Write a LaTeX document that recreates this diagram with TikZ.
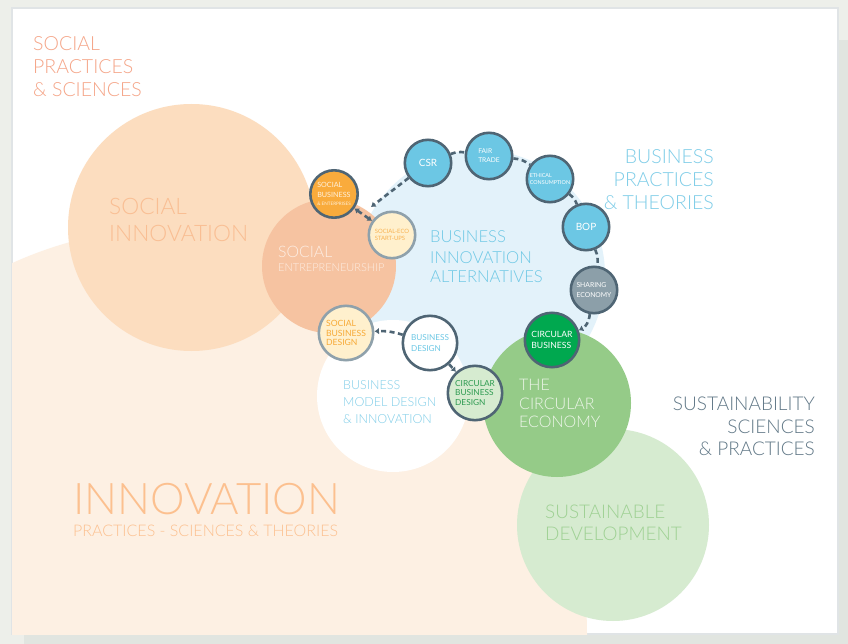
\documentclass[tikz,border=0pt]{standalone}
\usepackage{fontspec}
\IfFontExistsTF{Lato Light}{\setmainfont{Lato Light}}{\setmainfont{Lato}}
\newfontfamily\regfont{Lato}
\usetikzlibrary{arrows.meta}
\definecolor{bggray}{HTML}{EDEFEA}
\definecolor{shadowgray}{HTML}{E1E5E0}
\definecolor{cardline}{HTML}{E0E4E6}
\definecolor{bigpeach}{HTML}{FDF0E3}
\definecolor{sipeach}{HTML}{FCDDBF}
\definecolor{sepeach}{HTML}{F6C3A1}
\definecolor{bluebg}{HTML}{E3F2FA}
\definecolor{sdgreen}{HTML}{D6EBD0}
\definecolor{cegreen}{HTML}{95CB88}
\definecolor{slate}{HTML}{4F6574}
\definecolor{skyblue}{HTML}{6CC7E4}
\definecolor{orangefill}{HTML}{F9AB3C}
\definecolor{creamfill}{HTML}{FFF0CD}
\definecolor{lightring}{HTML}{8FA1AB}
\definecolor{sharegray}{HTML}{8C9FA9}
\definecolor{cbgreen}{HTML}{00A84F}
\definecolor{cbdtext}{HTML}{2E9B51}
\definecolor{salmontext}{HTML}{F5A588}
\definecolor{sitext}{HTML}{F9BE93}
\definecolor{setext}{HTML}{FDEEE4}
\definecolor{bluetext}{HTML}{6EC8E5}
\definecolor{bpttext}{HTML}{7FCDE8}
\definecolor{slatetext}{HTML}{617887}
\definecolor{sdtext}{HTML}{9FD194}
\definecolor{cetext}{HTML}{EEF6EA}
\definecolor{innotext}{HTML}{FCC08F}
\definecolor{orangetext}{HTML}{F7AA37}
\definecolor{ecotext}{HTML}{F8B250}
\definecolor{sbtext}{HTML}{FFF1DC}
\newcommand\fsz[2]{\fontsize{#1}{#2}\selectfont}
\tikzset{
  bigc/.style={circle, inner sep=0pt, draw=none},
  smallc/.style={circle, inner sep=0pt, draw=slate, line width=2.6pt, minimum size=46.4pt, align=left},
  dashline/.style={draw=slate, line width=2.6pt, dash pattern=on 5pt off 3.5pt},
  lbl/.style={inner sep=0pt, anchor=base west},
  lblr/.style={inner sep=0pt, anchor=base east},
}
\begin{document}
\begin{tikzpicture}[x=1pt, y=-1pt, >={Latex[length=4.5pt,width=6.5pt]}]
\useasboundingbox (0,0) rectangle (848,644);
% background and card
\fill[bggray] (0,0) rectangle (848,644);
\fill[shadowgray] (24,40) rectangle (848,644);
\filldraw[fill=white, draw=cardline, line width=1.2pt] (12,8) rectangle (838,634);
% large regions
\begin{scope}
  \clip (12,8) rectangle (838,634);
  \node[bigc, fill=bigpeach, minimum size=814pt] (inno) at (180,634) {};
\end{scope}
\node[bigc, fill=sipeach, minimum size=247pt] (si) at (191.5,227.5) {};
\node[bigc, fill=sdgreen, minimum size=192pt] (sd) at (613,525) {};
\node[bigc, fill=bluebg, minimum size=250pt] (bia) at (480,275) {};
\node[bigc, fill=sepeach, minimum size=134pt] (se) at (329,266) {};
\node[bigc, fill=white, minimum size=152pt] (bmd) at (393,396) {};
\node[bigc, fill=cegreen, minimum size=148pt] (ce) at (557,403) {};
% labels
\node[lbl, text=salmontext, font=\fsz{19.5}{23}] (spa) at (33,51) {SOCIAL};
\node[lbl, text=salmontext, font=\fsz{19.5}{23}] (spb) at (33,74) {PRACTICES};
\node[lbl, text=salmontext, font=\fsz{19.5}{23}] (spc) at (33,97) {\& SCIENCES};
\node[lbl, text=sitext, font=\fsz{22.7}{27}] (sia) at (109,215) {SOCIAL};
\node[lbl, text=sitext, font=\fsz{22.7}{27}] (sib) at (109,242) {INNOVATION};
\node[lbl, text=setext, font=\fsz{15.8}{18}] (sea) at (278,258) {SOCIAL};
\node[lbl, text=setext, font=\fsz{11}{13}] (seb) at (278,272) {ENTREPRENEURSHIP};
\node[lbl, text=bluetext, font=\fsz{16.6}{20}] (biaa) at (430,243) {BUSINESS};
\node[lbl, text=bluetext, font=\fsz{16.6}{20}] (biab) at (430,263) {INNOVATION};
\node[lbl, text=bluetext, font=\fsz{16.6}{20}] (biac) at (430,283) {ALTERNATIVES};
\node[lblr, text=bpttext, font=\fsz{19.5}{23}] (bpta) at (714,164) {BUSINESS};
\node[lblr, text=bpttext, font=\fsz{19.5}{23}] (bptb) at (714,187) {PRACTICES};
\node[lblr, text=bpttext, font=\fsz{19.5}{23}] (bptc) at (714,210) {\& THEORIES};
\node[lbl, text=bpttext, font=\fsz{12.5}{17}] (bmda) at (343,389) {BUSINESS};
\node[lbl, text=bpttext, font=\fsz{12.5}{17}] (bmdb) at (343,406) {MODEL DESIGN};
\node[lbl, text=bpttext, font=\fsz{12.5}{17}] (bmdc) at (343,423) {\& INNOVATION};
\node[lbl, text=cetext, font=\fsz{16}{19}] (cea) at (519,390) {THE};
\node[lbl, text=cetext, font=\fsz{16}{19}] (ceb) at (519,409) {CIRCULAR};
\node[lbl, text=cetext, font=\fsz{16}{19}] (cec) at (519,427) {ECONOMY};
\node[lblr, text=slatetext, font=\fsz{19}{23}] (ssa) at (815,410) {SUSTAINABILITY};
\node[lblr, text=slatetext, font=\fsz{19}{23}] (ssb) at (815,433) {SCIENCES};
\node[lblr, text=slatetext, font=\fsz{19}{23}] (ssc) at (815,455) {\& PRACTICES};
\node[lbl, text=sdtext, font=\fsz{18.9}{22}] (sda) at (545,518) {SUSTAINABLE};
\node[lbl, text=sdtext, font=\fsz{18.9}{22}] (sdb) at (545,540) {DEVELOPMENT};
\node[lbl, text=innotext, font=\fsz{43.6}{46}] (inna) at (73,514) {INNOVATION};
\node[lbl, text=innotext, font=\fsz{16}{18}] (innb) at (73,536) {PRACTICES - SCIENCES \& THEORIES};
% small circles
\node[smallc, fill=skyblue, text=white, font=\regfont\fsz{10}{11}] (csr) at (428,163) {CSR};
\node[smallc, fill=skyblue, text=white, font=\regfont\fsz{6.6}{9}] (ft) at (489,156) {FAIR\\TRADE};
\node[smallc, fill=skyblue, text=white, font=\regfont\fsz{5.4}{7.6}] (ec) at (550,179) {ETHICAL\\CONSUMPTION};
\node[smallc, fill=skyblue, text=white, font=\regfont\fsz{10}{11}] (bop) at (586,227) {BOP};
\node[smallc, fill=sharegray, text=white, font=\regfont\fsz{6.8}{9.3}] (sh) at (594,290) {SHARING\\ECONOMY};
\node[smallc, fill=cbgreen, text=white, font=\regfont\fsz{8.6}{11.5}, minimum size=54.4pt] (cb) at (552,340) {CIRCULAR\\BUSINESS};
\node[smallc, fill=orangefill, text=sbtext, font=\regfont\fsz{7.2}{10}, minimum size=47.4pt] (sb) at (334,194) {SOCIAL\\BUSINESS\\[-2.5pt]{\fsz{4.6}{6}\& ENTERPRISES}};
\node[smallc, fill=creamfill, draw=lightring, text=ecotext, font=\regfont\fsz{5.9}{7.5}] (seco) at (392,235) {SOCIAL-ECO\\START-UPS};
\node[smallc, fill=creamfill, draw=lightring, text=orangetext, font=\regfont\fsz{8.6}{9.5}, minimum size=54.4pt] (sbd) at (346,333) {SOCIAL\\BUSINESS\\DESIGN};
\node[smallc, fill=white, text=bluetext, font=\regfont\fsz{8.2}{10.7}, minimum size=54.4pt] (bd) at (430,343) {BUSINESS\\DESIGN};
\node[smallc, fill=sdgreen, text=cbdtext, font=\regfont\fsz{8.3}{9.4}, minimum size=54.4pt] (cbd) at (475,393) {CIRCULAR\\BUSINESS\\DESIGN};
% connectors
\coordinate (j) at (371,207);
\draw[dashline, ->] (csr) -- (j);
\draw[dashline, <->] (sb) -- (seco);
\draw[dashline] (csr) to[bend left=15] (ft);
\draw[dashline] (ft) to[bend left=15] (ec);
\draw[dashline] (ec) to[bend left=15] (bop);
\draw[dashline] (bop) to[bend left=15] (sh);
\draw[dashline, ->] (sh) to[bend left=30] (cb);
\draw[dashline, ->] (bd) to[bend right=10] (sbd);
\draw[dashline, ->] (bd) -- (cbd);
\end{tikzpicture}
\end{document}
